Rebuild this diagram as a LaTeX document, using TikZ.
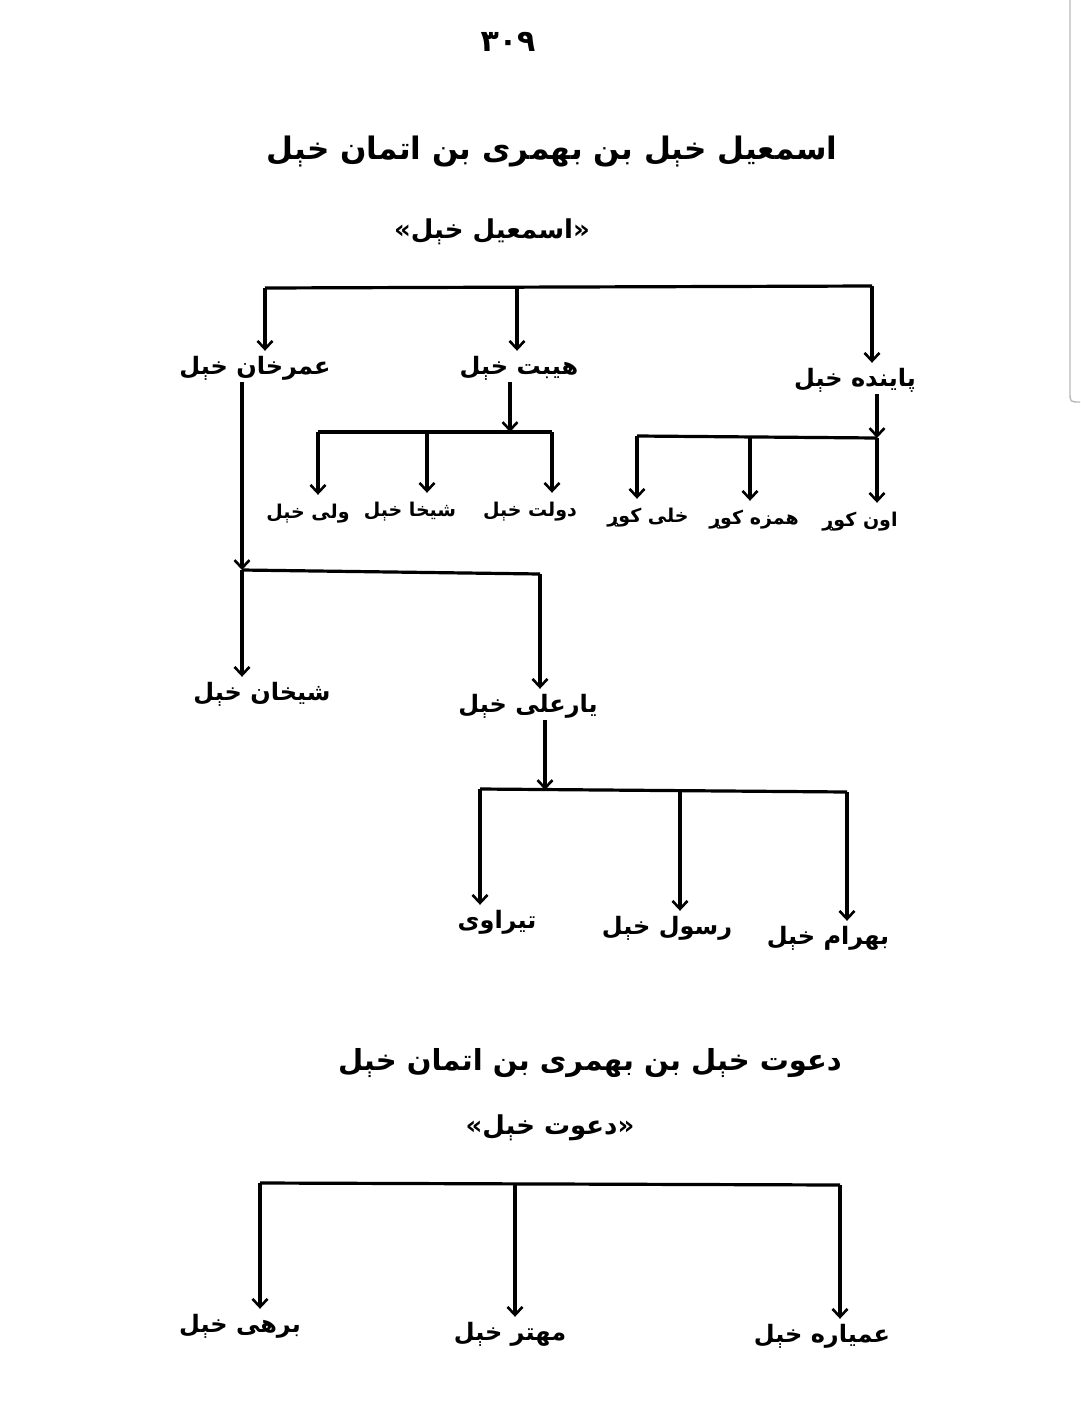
\documentclass[tikz,border=0pt]{standalone}
\usepackage{fontspec}
\usetikzlibrary{arrows.meta}
\newfontfamily\arfont[Script=Arabic]{DejaVu Sans}
\TeXXeTstate=1
\newcommand\artxt[1]{\beginR #1\endR}
\begin{document}
\begin{tikzpicture}[x=1pt,y=-1pt,
  lbl/.style={font=\arfont\bfseries\fontsize{24}{28}\selectfont, inner sep=0pt, text height=20pt, text depth=8pt},
  slbl/.style={lbl, font=\arfont\bfseries\fontsize{19}{24}\selectfont},
  ttl/.style={font=\arfont\bfseries\fontsize{31}{37}\selectfont, inner sep=0pt},
  sub/.style={font=\arfont\bfseries\fontsize{26}{30}\selectfont, inner sep=0pt},
  con/.style={line width=3.2pt, black},
  arr/.style={con, -{Straight Barb[length=8pt,width=15pt,line width=2.6pt]}, shorten >=3pt}]
\fill[white] (0,0) rectangle (1080,1416);
\useasboundingbox (0,0) rectangle (1080,1416);
\draw[gray!55, line width=1.4pt] (1070,0) -- (1070,392) .. controls (1070,402) .. (1080,402);

% page number
\node[font=\arfont\bfseries\fontsize{30}{34}\selectfont, inner sep=0pt] (pg) at (508,42) {۳۰۹};

% titles
\node[ttl] (t1) at (552,152) {\artxt{اسمعیل خېل بن بهمری بن اتمان خېل}};
\node[sub] (s1) at (492,232) {\artxt{«اسمعیل خېل»}};

% level 1
\node[lbl] (umar) at (255,368) {\artxt{عمرخان خېل}};
\node[lbl] (haibat) at (519,368) {\artxt{هیبت خېل}};
\node[lbl] (painda) at (855,380) {\artxt{پاینده خېل}};

\coordinate (tL) at (265,288);
\coordinate (tC) at (517,287);
\coordinate (tR) at (872,286);
\draw[con] (tL) -- (tR);
\draw[arr] (tL) -- (tL |- umar.north);
\draw[arr] (tC) -- (tC |- haibat.north);
\draw[arr] (tR) -- (tR |- painda.north);

% haibat branch
\node[slbl] (daulat) at (530,510) {\artxt{دولت خېل}};
\node[slbl] (shekha) at (410,510) {\artxt{شیخا خېل}};
\node[slbl] (wali) at (308,512) {\artxt{ولی خېل}};
\coordinate (hj) at (510,432);
\coordinate (hL) at (318,432);
\coordinate (hM) at (427,432);
\coordinate (hR) at (552,432);
\draw[arr, shorten >=0pt] (hj |- haibat.south) -- (hj);
\draw[con] (hL) -- (hR);
\draw[arr] (hL) -- (hL |- wali.north);
\draw[arr] (hM) -- (hM |- shekha.north);
\draw[arr] (hR) -- (hR |- daulat.north);

% painda branch
\node[slbl] (on) at (860,520) {\artxt{اون کوړ}};
\node[slbl] (hamza) at (754,518) {\artxt{همزه کوړ}};
\node[slbl] (khali) at (648,516) {\artxt{خلی کوړ}};
\coordinate (pj) at (877,438);
\coordinate (pL) at (637,436);
\coordinate (pM) at (750,437);
\draw[arr, shorten >=0pt] (pj |- painda.south) -- (pj);
\draw[con] (pL) -- (pj);
\draw[arr] (pj) -- (pj |- on.north);
\draw[arr] (pL) -- (pL |- khali.north);
\draw[arr] (pM) -- (pM |- hamza.north);

% umar branch
\node[lbl] (shikhan) at (262,694) {\artxt{شیخان خېل}};
\node[lbl] (yarali) at (528,706) {\artxt{یارعلی خېل}};
\coordinate (uj) at (242,570);
\coordinate (uR) at (540,574);
\draw[arr, shorten >=0pt] (uj |- umar.south) -- (uj);
\draw[con] (uj) -- (uR);
\draw[arr] (uj) -- (uj |- shikhan.north);
\draw[arr] (uR) -- (uR |- yarali.north);

% yarali branch
\node[lbl] (tirawi) at (497,922) {\artxt{تیراوی}};
\node[lbl] (rasul) at (667,928) {\artxt{رسول خېل}};
\node[lbl] (bahram) at (828,938) {\artxt{بهرام خېل}};
\coordinate (yj) at (545,790);
\coordinate (yL) at (480,789);
\coordinate (yM) at (680,790);
\coordinate (yR) at (847,792);
\draw[arr, shorten >=0pt] (yj |- yarali.south) -- (yj);
\draw[con] (yL) -- (yR);
\draw[arr] (yL) -- (yL |- tirawi.north);
\draw[arr] (yM) -- (yM |- rasul.north);
\draw[arr] (yR) -- (yR |- bahram.north);

% second family
\node[ttl, font=\arfont\bfseries\fontsize{29}{34}\selectfont] (t2) at (590,1063) {\artxt{دعوت خېل بن بهمری بن اتمان خېل}};
\node[sub] (s2) at (550,1128) {\artxt{«دعوت خېل»}};

\node[lbl] (barhi) at (240,1326) {\artxt{برهی خېل}};
\node[lbl] (mehtar) at (510,1334) {\artxt{مهتر خېل}};
\node[lbl] (amyara) at (822,1336) {\artxt{عمیاره خېل}};
\coordinate (bL) at (260,1183);
\coordinate (bM) at (515,1184);
\coordinate (bR) at (840,1185);
\draw[con] (bL) -- (bR);
\draw[arr] (bL) -- (bL |- barhi.north);
\draw[arr] (bM) -- (bM |- mehtar.north);
\draw[arr] (bR) -- (bR |- amyara.north);
\end{tikzpicture}
\end{document}
